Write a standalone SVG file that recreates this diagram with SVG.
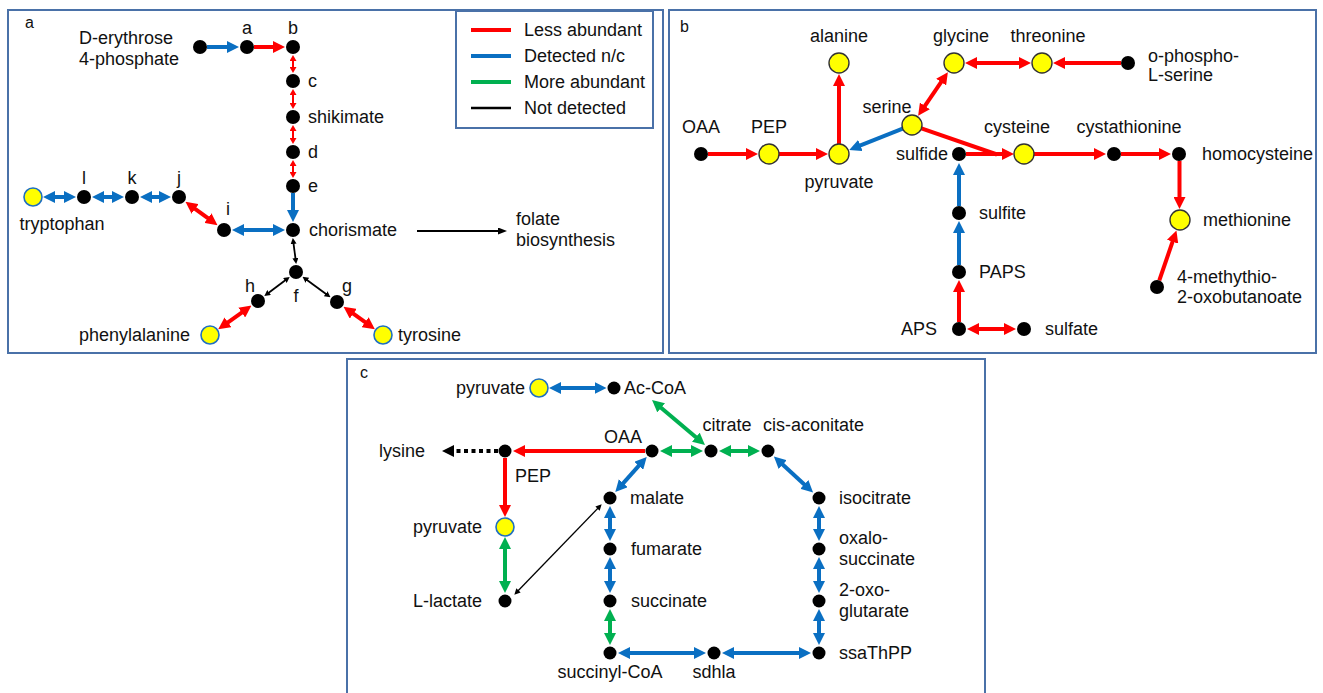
<svg xmlns="http://www.w3.org/2000/svg" width="1323" height="693" viewBox="0 0 1323 693">
<style>
.f{fill:none;stroke:#4a71a8;stroke-width:2}
.t{font-family:"Liberation Sans",Arial,sans-serif;font-size:18px;fill:#111}
.p{font-family:"Liberation Sans",Arial,sans-serif;font-size:16px;fill:#111}
.m{text-anchor:middle}
.e{text-anchor:end}
.n{fill:#000}
.ya{fill:#ffff00;stroke:#1f6fc0;stroke-width:1.6}
.yb{fill:#ffff00;stroke:#333;stroke-width:1.4}
.r{stroke:#ff0000;stroke-width:4;fill:none}
.b{stroke:#0a6fc2;stroke-width:4;fill:none}
.g{stroke:#00b050;stroke-width:4;fill:none}
.k{stroke:#000;stroke-width:1.8;fill:none}
.rt{stroke:#ff0000;stroke-width:2;fill:none}
</style>
<defs>
<marker id="mr" markerUnits="userSpaceOnUse" viewBox="0 0 12 12" markerWidth="12" markerHeight="12" refX="6" refY="6" orient="auto-start-reverse"><path d="M0,0 L12,6 L0,12 z" fill="#ff0000"/></marker>
<marker id="mb" markerUnits="userSpaceOnUse" viewBox="0 0 12 12" markerWidth="12" markerHeight="12" refX="6" refY="6" orient="auto-start-reverse"><path d="M0,0 L12,6 L0,12 z" fill="#0a6fc2"/></marker>
<marker id="mg" markerUnits="userSpaceOnUse" viewBox="0 0 12 12" markerWidth="12" markerHeight="12" refX="6" refY="6" orient="auto-start-reverse"><path d="M0,0 L12,6 L0,12 z" fill="#00b050"/></marker>
<marker id="mk" markerUnits="userSpaceOnUse" viewBox="0 0 12 12" markerWidth="12" markerHeight="12" refX="6" refY="6" orient="auto-start-reverse"><path d="M0,0 L12,6 L0,12 z" fill="#000"/></marker>
<marker id="mrt" markerUnits="userSpaceOnUse" viewBox="0 0 6 7" markerWidth="6" markerHeight="7" refX="3" refY="3.5" orient="auto-start-reverse"><path d="M0,0 L6,3.5 L0,7 z" fill="#ff0000"/></marker>
<marker id="mkt" markerUnits="userSpaceOnUse" viewBox="0 0 6 6" markerWidth="6" markerHeight="6" refX="3" refY="3" orient="auto-start-reverse"><path d="M0,0 L6,3 L0,6 z" fill="#000"/></marker>
<marker id="mkf" markerUnits="userSpaceOnUse" viewBox="0 0 9 7" markerWidth="9" markerHeight="7" refX="4.5" refY="3.5" orient="auto-start-reverse"><path d="M0,0 L9,3.5 L0,7 z" fill="#000"/></marker>
</defs>

<g id="frames">
<rect class="f" x="8" y="10" width="655" height="343"/>
<rect class="f" x="669" y="10" width="647" height="343"/>
<rect class="f" x="347" y="359" width="638" height="340"/>
</g>

<g id="legend">
<rect class="f" x="456" y="11" width="197" height="117"/>
<line x1="471" y1="30" x2="511" y2="30" stroke="#ff0000" stroke-width="4"/>
<line x1="471" y1="56" x2="511" y2="56" stroke="#0a6fc2" stroke-width="4"/>
<line x1="471" y1="82" x2="511" y2="82" stroke="#00b050" stroke-width="4"/>
<line x1="471" y1="108" x2="511" y2="108" stroke="#000" stroke-width="2.5"/>
<text class="t" x="524" y="36">Less abundant</text>
<text class="t" x="524" y="62">Detected n/c</text>
<text class="t" x="524" y="88">More abundant</text>
<text class="t" x="524" y="114">Not detected</text>
</g>

<g id="connectors">
<!-- panel a -->
<line class="b" x1="207" y1="47" x2="233" y2="47" marker-end="url(#mb)"/>
<line class="r" x1="254" y1="47" x2="279" y2="47" marker-end="url(#mr)"/>
<line class="rt" x1="293" y1="58" x2="293" y2="70" marker-start="url(#mrt)" marker-end="url(#mrt)"/>
<line class="rt" x1="293" y1="92" x2="293" y2="106" marker-start="url(#mrt)" marker-end="url(#mrt)"/>
<line class="rt" x1="293" y1="128" x2="293" y2="141" marker-start="url(#mrt)" marker-end="url(#mrt)"/>
<line class="rt" x1="293" y1="163" x2="293" y2="175" marker-start="url(#mrt)" marker-end="url(#mrt)"/>
<line class="b" x1="293" y1="193" x2="293" y2="216" marker-end="url(#mb)"/>
<line class="b" x1="238" y1="230" x2="279" y2="230" marker-start="url(#mb)" marker-end="url(#mb)"/>
<line class="r" x1="190.3" y1="205.3" x2="212.7" y2="221.7" marker-start="url(#mr)" marker-end="url(#mr)"/>
<line class="b" x1="146" y1="197" x2="165" y2="197" marker-start="url(#mb)" marker-end="url(#mb)"/>
<line class="b" x1="98" y1="197" x2="118" y2="197" marker-start="url(#mb)" marker-end="url(#mb)"/>
<line class="b" x1="49" y1="197" x2="70" y2="197" marker-start="url(#mb)" marker-end="url(#mb)"/>
<line class="k" x1="293.2" y1="241" x2="295.8" y2="261" marker-start="url(#mkt)" marker-end="url(#mkt)"/>
<line class="k" x1="287.3" y1="278.7" x2="266.7" y2="294.3" marker-start="url(#mkt)" marker-end="url(#mkt)"/>
<line class="k" x1="304.9" y1="278.5" x2="328.1" y2="295.5" marker-start="url(#mkt)" marker-end="url(#mkt)"/>
<line class="r" x1="246.6" y1="309.1" x2="223.1" y2="325.8" marker-start="url(#mr)" marker-end="url(#mr)"/>
<line class="r" x1="348.4" y1="310.2" x2="370" y2="325.7" marker-start="url(#mr)" marker-end="url(#mr)"/>
<line class="k" x1="417" y1="231" x2="502.5" y2="231" marker-end="url(#mkf)"/>
<!-- panel b -->
<line class="r" x1="708" y1="154" x2="752" y2="154" marker-end="url(#mr)"/>
<line class="r" x1="779" y1="154" x2="822" y2="154" marker-end="url(#mr)"/>
<line class="r" x1="839" y1="144" x2="839" y2="80" marker-end="url(#mr)"/>
<line class="b" x1="902.7" y1="128.7" x2="854.8" y2="147.7" marker-end="url(#mb)"/>
<line class="r" x1="921.5" y1="110.9" x2="944.5" y2="77.1" marker-start="url(#mr)" marker-end="url(#mr)"/>
<line class="r" x1="971" y1="63" x2="1025" y2="63" marker-start="url(#mr)" marker-end="url(#mr)"/>
<line class="r" x1="1121" y1="63" x2="1059" y2="63" marker-end="url(#mr)"/>
<line class="r" x1="921.4" y1="128.3" x2="997" y2="154.5"/>
<line class="r" x1="966" y1="154" x2="1008" y2="154" marker-end="url(#mr)"/>
<line class="r" x1="1034" y1="154" x2="1100" y2="154" marker-end="url(#mr)"/>
<line class="r" x1="1121" y1="154" x2="1165" y2="154" marker-end="url(#mr)"/>
<line class="r" x1="1179.5" y1="161" x2="1179.5" y2="203" marker-end="url(#mr)"/>
<line class="r" x1="1159.3" y1="280.4" x2="1174.5" y2="236.1" marker-end="url(#mr)"/>
<line class="r" x1="973" y1="329" x2="1010" y2="329" marker-start="url(#mr)" marker-end="url(#mr)"/>
<line class="r" x1="959" y1="322" x2="959" y2="286" marker-end="url(#mr)"/>
<line class="b" x1="959" y1="265" x2="959" y2="227" marker-end="url(#mb)"/>
<line class="b" x1="959" y1="206" x2="959" y2="169" marker-end="url(#mb)"/>
<!-- panel c -->
<line class="b" x1="555" y1="388" x2="600.5" y2="388" marker-start="url(#mb)" marker-end="url(#mb)"/>
<line class="g" x1="656.6" y1="403.9" x2="700.4" y2="441.1" marker-start="url(#mg)" marker-end="url(#mg)"/>
<line class="g" x1="666" y1="451" x2="697" y2="451" marker-start="url(#mg)" marker-end="url(#mg)"/>
<line class="g" x1="725" y1="451" x2="754" y2="451" marker-start="url(#mg)" marker-end="url(#mg)"/>
<line class="b" x1="778.3" y1="460.5" x2="808.7" y2="488.5" marker-start="url(#mb)" marker-end="url(#mb)"/>
<line class="b" x1="819" y1="512" x2="819" y2="535" marker-start="url(#mb)" marker-end="url(#mb)"/>
<line class="b" x1="819" y1="563" x2="819" y2="587" marker-start="url(#mb)" marker-end="url(#mb)"/>
<line class="b" x1="819" y1="615" x2="819" y2="639" marker-start="url(#mb)" marker-end="url(#mb)"/>
<line class="b" x1="805" y1="653" x2="728" y2="653" marker-start="url(#mb)" marker-end="url(#mb)"/>
<line class="b" x1="700" y1="653" x2="624" y2="653" marker-start="url(#mb)" marker-end="url(#mb)"/>
<line class="g" x1="610" y1="639" x2="610" y2="615" marker-start="url(#mg)" marker-end="url(#mg)"/>
<line class="b" x1="610" y1="587" x2="610" y2="563" marker-start="url(#mb)" marker-end="url(#mb)"/>
<line class="b" x1="610" y1="535" x2="610" y2="512" marker-start="url(#mb)" marker-end="url(#mb)"/>
<line class="b" x1="619.3" y1="487.6" x2="642.7" y2="461.4" marker-start="url(#mb)" marker-end="url(#mb)"/>
<line class="r" x1="645" y1="451" x2="519" y2="451" marker-end="url(#mr)"/>
<line class="r" x1="505" y1="458" x2="505" y2="511" marker-end="url(#mr)"/>
<line class="g" x1="505" y1="543" x2="505" y2="587" marker-start="url(#mg)" marker-end="url(#mg)"/>
<line stroke="#000" stroke-width="1.3" x1="516.4" y1="592.5" x2="599.6" y2="506.5" marker-start="url(#mkt)" marker-end="url(#mkt)"/>
<line stroke="#000" stroke-width="4" stroke-dasharray="4 3.5" x1="498" y1="451" x2="448" y2="451" marker-end="url(#mk)"/>
</g>

<g id="panel-a">
<text class="p" x="25" y="28">a</text>
<g id="a-start"><circle class="n" cx="200" cy="47" r="7"/><text class="t" x="79" y="44">D-erythrose</text><text class="t" x="79" y="65">4-phosphate</text></g>
<g id="a-a"><circle class="n" cx="247" cy="47" r="7"/><text class="t m" x="247" y="34">a</text></g>
<g id="a-b"><circle class="n" cx="293" cy="47" r="7"/><text class="t m" x="293" y="34">b</text></g>
<g id="a-c"><circle class="n" cx="293" cy="81" r="7"/><text class="t" x="308" y="87">c</text></g>
<g id="a-shikimate"><circle class="n" cx="293" cy="117" r="7"/><text class="t" x="308" y="123">shikimate</text></g>
<g id="a-d"><circle class="n" cx="293" cy="152" r="7"/><text class="t" x="308" y="158">d</text></g>
<g id="a-e"><circle class="n" cx="293" cy="186" r="7"/><text class="t" x="308" y="192">e</text></g>
<g id="a-chorismate"><circle class="n" cx="293" cy="230" r="7"/><text class="t" x="309" y="236">chorismate</text></g>
<g id="a-i"><circle class="n" cx="224" cy="230" r="7"/><text class="t m" x="228" y="215">i</text></g>
<g id="a-j"><circle class="n" cx="179" cy="197" r="7"/><text class="t m" x="179" y="184">j</text></g>
<g id="a-k"><circle class="n" cx="132" cy="197" r="7"/><text class="t m" x="132" y="184">k</text></g>
<g id="a-l"><circle class="n" cx="84" cy="197" r="7"/><text class="t m" x="84" y="184">l</text></g>
<g id="a-tryptophan"><circle class="ya" cx="33" cy="197" r="9"/><text class="t m" x="62" y="230">tryptophan</text></g>
<g id="a-f"><circle class="n" cx="296" cy="272" r="7"/><text class="t m" x="296" y="302">f</text></g>
<g id="a-h"><circle class="n" cx="258" cy="301" r="7"/><text class="t m" x="250" y="292">h</text></g>
<g id="a-g"><circle class="n" cx="337" cy="302" r="7"/><text class="t m" x="347" y="292">g</text></g>
<g id="a-phenylalanine"><circle class="ya" cx="210" cy="335" r="9"/><text class="t e" x="190" y="341">phenylalanine</text></g>
<g id="a-tyrosine"><circle class="ya" cx="383" cy="335" r="9"/><text class="t" x="398" y="341">tyrosine</text></g>
<g id="a-folate"><text class="t" x="516" y="225">folate</text><text class="t" x="516" y="246">biosynthesis</text></g>
</g>

<g id="panel-b">
<text class="p" x="680" y="32">b</text>
<g id="b-oaa"><circle class="n" cx="701" cy="154" r="7"/><text class="t m" x="701" y="133">OAA</text></g>
<g id="b-pep"><circle class="yb" cx="769" cy="154" r="10"/><text class="t m" x="769" y="133">PEP</text></g>
<g id="b-pyruvate"><circle class="yb" cx="839" cy="154" r="10"/><text class="t m" x="839" y="188">pyruvate</text></g>
<g id="b-alanine"><circle class="yb" cx="839" cy="63" r="10"/><text class="t m" x="839" y="42">alanine</text></g>
<g id="b-serine"><circle class="yb" cx="912" cy="125" r="10"/><text class="t m" x="887" y="113">serine</text></g>
<g id="b-glycine"><circle class="yb" cx="954" cy="63" r="10"/><text class="t m" x="961" y="42">glycine</text></g>
<g id="b-threonine"><circle class="yb" cx="1042" cy="63" r="10"/><text class="t m" x="1048" y="42">threonine</text></g>
<g id="b-ophospho"><circle class="n" cx="1128" cy="63" r="7"/><text class="t" x="1148" y="62">o-phospho-</text><text class="t" x="1148" y="81">L-serine</text></g>
<g id="b-sulfide"><circle class="n" cx="959" cy="154" r="7"/><text class="t e" x="948" y="160">sulfide</text></g>
<g id="b-cysteine"><circle class="yb" cx="1024" cy="154" r="10"/><text class="t m" x="1017" y="133">cysteine</text></g>
<g id="b-cystathionine"><circle class="n" cx="1114" cy="154" r="7"/><text class="t m" x="1129" y="133">cystathionine</text></g>
<g id="b-homocysteine"><circle class="n" cx="1179" cy="154" r="7"/><text class="t" x="1202" y="160">homocysteine</text></g>
<g id="b-methionine"><circle class="yb" cx="1180" cy="220" r="10"/><text class="t" x="1203" y="226">methionine</text></g>
<g id="b-mtob"><circle class="n" cx="1157" cy="287" r="7"/><text class="t" x="1177" y="283">4-methythio-</text><text class="t" x="1177" y="303">2-oxobutanoate</text></g>
<g id="b-sulfite"><circle class="n" cx="959" cy="213" r="7"/><text class="t" x="979" y="219">sulfite</text></g>
<g id="b-paps"><circle class="n" cx="959" cy="272" r="7"/><text class="t" x="979" y="278">PAPS</text></g>
<g id="b-aps"><circle class="n" cx="959" cy="329" r="7"/><text class="t e" x="937" y="335">APS</text></g>
<g id="b-sulfate"><circle class="n" cx="1024" cy="329" r="7"/><text class="t" x="1045" y="335">sulfate</text></g>
</g>

<g id="panel-c">
<text class="p" x="360" y="378">c</text>
<g id="c-pyruvate1"><circle class="ya" cx="539" cy="388" r="9"/><text class="t e" x="525" y="394">pyruvate</text></g>
<g id="c-acoa"><circle class="n" cx="614" cy="388" r="6.5"/><text class="t" x="624" y="394">Ac-CoA</text></g>
<g id="c-oaa"><circle class="n" cx="652" cy="451" r="6.5"/><text class="t m" x="623" y="443">OAA</text></g>
<g id="c-citrate"><circle class="n" cx="711" cy="451" r="6.5"/><text class="t m" x="727" y="431">citrate</text></g>
<g id="c-cisaconitate"><circle class="n" cx="768" cy="451" r="6.5"/><text class="t" x="763" y="431">cis-aconitate</text></g>
<g id="c-isocitrate"><circle class="n" cx="819" cy="498" r="6.5"/><text class="t" x="839" y="504">isocitrate</text></g>
<g id="c-oxalosuccinate"><circle class="n" cx="819" cy="549" r="6.5"/><text class="t" x="839" y="544">oxalo-</text><text class="t" x="839" y="565">succinate</text></g>
<g id="c-oxoglutarate"><circle class="n" cx="819" cy="601" r="6.5"/><text class="t" x="839" y="596">2-oxo-</text><text class="t" x="839" y="617">glutarate</text></g>
<g id="c-ssathpp"><circle class="n" cx="819" cy="653" r="6.5"/><text class="t" x="839" y="659">ssaThPP</text></g>
<g id="c-sdhla"><circle class="n" cx="714" cy="653" r="6.5"/><text class="t m" x="714" y="678">sdhla</text></g>
<g id="c-succinylcoa"><circle class="n" cx="610" cy="653" r="6.5"/><text class="t m" x="610" y="678">succinyl-CoA</text></g>
<g id="c-succinate"><circle class="n" cx="610" cy="601" r="6.5"/><text class="t" x="631" y="607">succinate</text></g>
<g id="c-fumarate"><circle class="n" cx="610" cy="549" r="6.5"/><text class="t" x="631" y="555">fumarate</text></g>
<g id="c-malate"><circle class="n" cx="610" cy="498" r="6.5"/><text class="t" x="630" y="504">malate</text></g>
<g id="c-pep"><circle class="n" cx="505" cy="451" r="6.5"/><text class="t" x="515" y="482">PEP</text></g>
<g id="c-lysine"><text class="t e" x="425" y="457">lysine</text></g>
<g id="c-pyruvate2"><circle class="ya" cx="505" cy="527" r="9"/><text class="t e" x="482" y="533">pyruvate</text></g>
<g id="c-llactate"><circle class="n" cx="505" cy="601" r="6.5"/><text class="t e" x="482" y="607">L-lactate</text></g>
</g>
</svg>
